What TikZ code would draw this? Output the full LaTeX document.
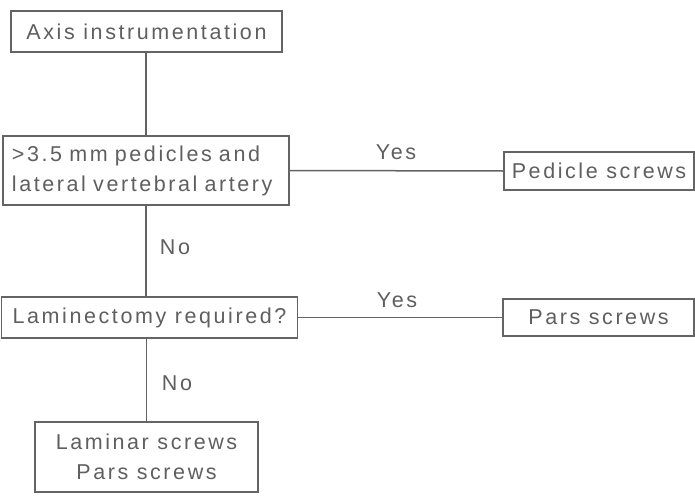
\documentclass[tikz,border=0pt]{standalone}
\usepackage{fontspec}
\setmainfont[LetterSpace=12]{Liberation Sans}
\definecolor{txt}{RGB}{95,95,95}
\definecolor{ln}{RGB}{100,100,100}
\begin{document}
\begin{tikzpicture}[x=1pt,y=-1pt,
  box/.style={draw=ln, line width=1.5pt, text=txt, inner sep=0pt,
    font=\fontsize{21.5}{30}\selectfont},
  lbl/.style={text=txt, inner sep=0pt, font=\fontsize{21.5}{30}\selectfont},
  conn/.style={draw=ln, line width=1.5pt}]
\fill[white] (0,0) rectangle (695,495);
\useasboundingbox (0,0) rectangle (695,495);
\node[box, minimum width=271pt, minimum height=41pt] (axis) at (146.5,31.5) {Axis instrumentation};
\node[box, minimum width=286pt, minimum height=69pt, align=left, text width=268pt] (ped) at (146,170.5) {>3.5 mm pedicles and\\lateral vertebral artery};
\node[box, minimum width=190pt, minimum height=38pt] (pedscr) at (599,171) {Pedicle screws};
\node[box, minimum width=296pt, minimum height=41pt] (lam) at (149.5,317.5) {Laminectomy required?};
\node[box, minimum width=191pt, minimum height=37pt] (pars) at (598.5,317.5) {Pars screws};
\node[box, minimum width=223pt, minimum height=70pt, align=center] (lamscr) at (146.5,457) {Laminar screws\\Pars screws};
\draw[conn] (ped.north) -- (ped.north |- axis.south);
\draw[conn] (ped.east) -- (pedscr.west);
\draw[conn] (ped.south) -- (ped.south |- lam.north);
\draw[conn] (lam.east) -- (pars.west);
\draw[conn] (lamscr.north |- lam.south) -- (lamscr.north);
\node[lbl] (yes1) at (396,152) {Yes};
\node[lbl] (yes2) at (397,300) {Yes};
\node[lbl] (no1) at (175,247) {No};
\node[lbl] (no2) at (177,383) {No};
\end{tikzpicture}
\end{document}
